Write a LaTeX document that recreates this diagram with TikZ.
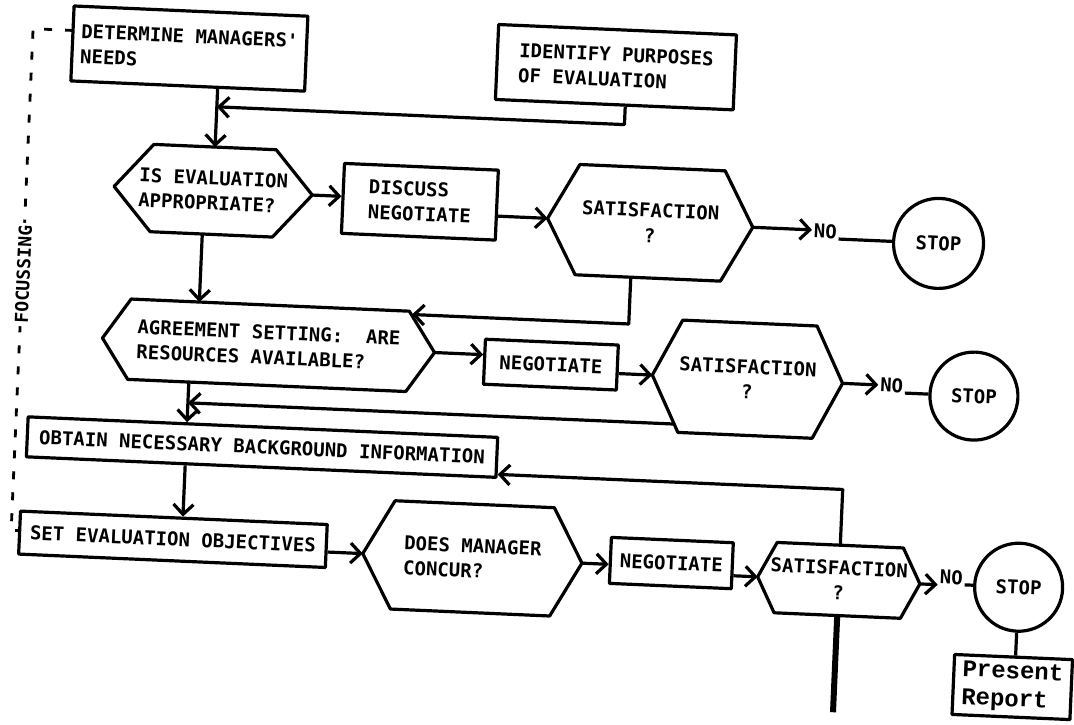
\documentclass[tikz,border=0pt]{standalone}
\usepackage{fontspec}
\newfontfamily\lettering{DejaVu Sans Mono}
\newfontfamily\typewriter{Liberation Mono}
\usetikzlibrary{arrows.meta,calc}

\tikzset{
  ink/.style={line width=3.2pt, line join=round},
  txt/.style={font=\lettering\bfseries\fontsize{19}{25}\selectfont, align=left, inner sep=0pt},
  stepbox/.style={txt, draw, ink},
  hexnode/.style={txt},
  stopnode/.style={txt, draw, ink, circle},
  nolabel/.style={txt, anchor=base west, outer xsep=2pt},
  arr/.style={ink, -{Straight Barb[length=10pt,width=20pt]}},
  spine/.style={line width=6pt},
  bracket/.style={line width=2.8pt, dash pattern=on 8pt off 13pt},
}

% hexagonal decision outline drawn round a (borderless) node
\newcommand\hexof[2]{%
  \draw[ink] (#1.west) -- ($(#1.north west)!#2!(#1.north east)$)
    -- ($(#1.north east)!#2!(#1.north west)$) -- (#1.east)
    -- ($(#1.south east)!#2!(#1.south west)$)
    -- ($(#1.south west)!#2!(#1.south east)$) -- cycle;}

\begin{document}
\begin{tikzpicture}[x=1pt,y=-1pt]
\fill[white] (0,0) rectangle (1074,724);
\useasboundingbox (0,0) rectangle (1074,724);
\begin{scope}[transform canvas={rotate around={-2.5:(537,362)}}]

% phase bracket
\draw[bracket] (59,51) -- (19,51) -- (19,553) -- (27,553);
\node[txt, font=\lettering\bfseries\fontsize{18}{20}\selectfont, rotate=90,
      fill=white, inner sep=3pt] (focus) at (20,297) {FOCUSSING};

% first row
\node[stepbox, minimum width=234pt, minimum height=75pt] (needs) at (176,64)
  {DETERMINE MANAGERS'\\NEEDS};
\node[stepbox, minimum width=238pt, minimum height=75pt] (purpose) at (603,64)
  {IDENTIFY PURPOSES\\OF EVALUATION};

% appropriateness
\node[hexnode, minimum width=198pt, minimum height=87pt] (approp) at (206,205)
  {IS EVALUATION\\APPROPRIATE?};
\node[stepbox, minimum width=154pt, minimum height=70pt] (discuss) at (413,207)
  {DISCUSS\\NEGOTIATE};
\node[hexnode, align=center, minimum width=205pt, minimum height=110pt] (sat1) at (644,218)
  {SATISFACTION\\?};
\node[nolabel] (no1) at (806,226) {NO};
\node[stopnode, minimum size=90pt] (stop1) at (933,226) {STOP};

% agreement setting
\node[hexnode, minimum width=332pt, minimum height=80pt] (agree) at (268,357)
  {AGREEMENT SETTING:~~ARE\\RESOURCES AVAILABLE?};
\node[stepbox, minimum width=133pt, minimum height=45pt] (nego1) at (551,364) {NEGOTIATE};
\node[hexnode, align=center, minimum width=190pt, minimum height=112pt] (sat2) at (748,370)
  {SATISFACTION\\?};
\node[nolabel] (no2) at (879,377) {NO};
\node[stopnode, minimum size=88pt] (stop2) at (975,377) {STOP};

% background and objectives
\node[stepbox, minimum width=470pt, minimum height=40pt] (background) at (266,459)
  {OBTAIN NECESSARY BACKGROUND INFORMATION};
\node[stepbox, minimum width=307pt, minimum height=43pt] (objectives) at (181,555)
  {SET EVALUATION OBJECTIVES};
\node[hexnode, minimum width=219pt, minimum height=108pt] (concur) at (481,561)
  {DOES MANAGER\\CONCUR?};
\node[stepbox, minimum width=122pt, minimum height=46pt] (nego2) at (680,557) {NEGOTIATE};
\node[hexnode, align=center, minimum width=162pt, minimum height=70pt] (sat3) at (848,567)
  {SATISFACTION\\?};
\node[nolabel] (no3) at (947,566) {NO};
\node[stopnode, minimum size=88pt] (stop3) at (1028,566) {STOP};
\node[stepbox, font=\typewriter\bfseries\fontsize{24}{28}\selectfont,
      minimum width=118pt, minimum height=60pt] (report) at (1026,666) {Present\\Report};

\hexof{approp}{38pt}
\hexof{sat1}{30pt}
\hexof{agree}{27pt}
\hexof{sat2}{28pt}
\hexof{concur}{30pt}
\hexof{sat3}{18pt}

% bends and junctions
\coordinate (b1) at (614,121);
\coordinate (j1) at (206,121);
\coordinate (e1) at (627,320);
\coordinate (f1) at (410,320);
\coordinate (s1) at (197,0);
\coordinate (s2) at (190,0);
\coordinate (h1) at (677,418);
\coordinate (t3) at (848,476);
\coordinate (out3) at (848,699);

% connectors
\draw[arr] (needs.south -| approp.north) -- (approp.north);
\draw[arr] (purpose.south -| b1) -- (b1) -- (j1);
\draw[arr] (approp.east) -- (approp.east -| discuss.west);
\draw[arr] (discuss.east |- sat1.west) -- (sat1.west);
\draw[arr] (sat1.east) -- (sat1.east -| no1.west);
\draw[ink] (no1.base east) -- (stop1.west);
\draw[arr] (sat1.south -| e1) -- (e1) -- (f1);
\draw[arr] (approp.south -| s1) -- (agree.north -| s1);

\draw[arr] (agree.east) -- (agree.east -| nego1.west);
\draw[arr] (nego1.east |- sat2.west) -- (sat2.west);
\draw[arr] (sat2.east) -- (sat2.east -| no2.west);
\draw[ink] (no2.base east) -- (stop2.west);
\draw[arr] (agree.south -| s2) -- (background.north -| s2);
\draw[arr] (h1) -- (h1 -| s2);

\draw[arr] (background.south -| s2) -- (objectives.north -| s2);
\draw[arr] (objectives.east |- concur.west) -- (concur.west);
\draw[arr] (concur.east) -- (concur.east -| nego2.west);
\draw[arr] (nego2.east |- sat3.west) -- (sat3.west);
\draw[arr] (sat3.east) -- (sat3.east -| no3.west);
\draw[ink] (no3.base east) -- (stop3.west);
\draw[ink] (stop3.south) -- (stop3.south |- report.north);
\draw[arr] (sat3.north) -- (t3) -- (t3 -| background.east);
\draw[spine] (sat3.south) -- (out3);

\end{scope}
\end{tikzpicture}
\end{document}
